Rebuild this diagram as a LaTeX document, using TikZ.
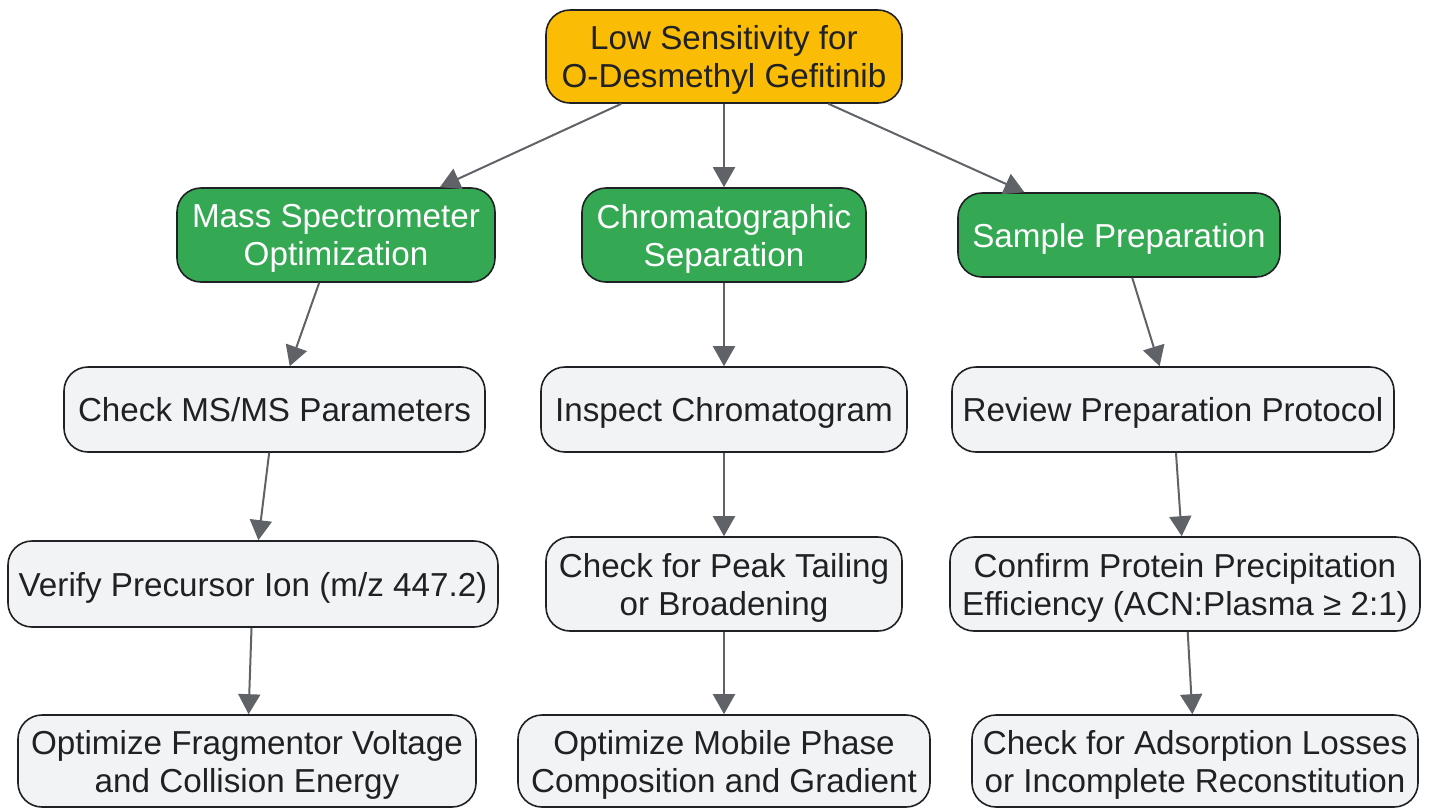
\documentclass[tikz,border=0pt]{standalone}
\usepackage{fontspec}
\setmainfont{Liberation Sans}
\usetikzlibrary{arrows.meta}
\definecolor{orangeC}{HTML}{FBBC05}
\definecolor{greenC}{HTML}{34A853}
\definecolor{grayC}{HTML}{F1F3F4}
\definecolor{lineC}{HTML}{5F6368}
\definecolor{edgeC}{HTML}{202124}
\definecolor{textC}{HTML}{202124}
\tikzset{
  box/.style={draw=edgeC, line width=1.6pt, rounded corners=24pt, align=center, inner sep=0pt,
    font=\fontsize{33.2}{38}\selectfont, text=textC, text depth=-4pt},
  topbox/.style={box, fill=orangeC},
  grnbox/.style={box, fill=greenC, text=white},
  gbox/.style={box, fill=grayC},
  conn/.style={draw=lineC, line width=2pt, -{Triangle[length=20pt,width=22pt]}}
}
\begin{document}
\begin{tikzpicture}[x=1pt,y=-1pt]
\useasboundingbox (0,0) rectangle (1430,807);
\node[topbox, minimum width=356pt, minimum height=93pt] (top) at (724,56.5) {Low Sensitivity for\\O-Desmethyl Gefitinib};
\node[grnbox, minimum width=318pt, minimum height=94pt] (ms) at (336,235) {Mass Spectrometer\\Optimization};
\node[grnbox, minimum width=284pt, minimum height=94pt] (chrom) at (724,235) {Chromatographic\\Separation};
\node[grnbox, minimum width=322pt, minimum height=84pt] (samp) at (1119,235) {Sample Preparation};
\node[gbox, minimum width=421pt, minimum height=85pt] (chk) at (274.5,409.5) {Check MS/MS Parameters};
\node[gbox, minimum width=366pt, minimum height=85pt] (insp) at (724,409.5) {Inspect Chromatogram};
\node[gbox, minimum width=442pt, minimum height=85pt] (rev) at (1173,409.5) {Review Preparation Protocol};
\node[gbox, minimum width=490pt, minimum height=86pt] (ver) at (253,584) {Verify Precursor Ion (m/z 447.2)};
\node[gbox, minimum width=356pt, minimum height=94pt] (peak) at (724,584) {Check for Peak Tailing\\or Broadening};
\node[gbox, minimum width=470pt, minimum height=94pt] (conf) at (1185,584) {Confirm Protein Precipitation\\Efficiency (ACN:Plasma ≥ 2:1)};
\node[gbox, minimum width=458pt, minimum height=92pt] (opt1) at (247,761) {Optimize Fragmentor Voltage\\and Collision Energy};
\node[gbox, minimum width=412pt, minimum height=92pt] (opt2) at (724,761) {Optimize Mobile Phase\\Composition and Gradient};
\node[gbox, minimum width=446pt, minimum height=92pt] (opt3) at (1195,761) {Check for Adsorption Losses\\or Incomplete Reconstitution};
\draw[conn] (top) -- (ms);
\draw[conn] (top) -- (chrom);
\draw[conn] (top) -- (samp);
\draw[conn] (ms) -- (chk);
\draw[conn] (chk) -- (ver);
\draw[conn] (ver) -- (opt1);
\draw[conn] (chrom) -- (insp);
\draw[conn] (insp) -- (peak);
\draw[conn] (peak) -- (opt2);
\draw[conn] (samp) -- (rev);
\draw[conn] (rev) -- (conf);
\draw[conn] (conf) -- (opt3);
\end{tikzpicture}
\end{document}
